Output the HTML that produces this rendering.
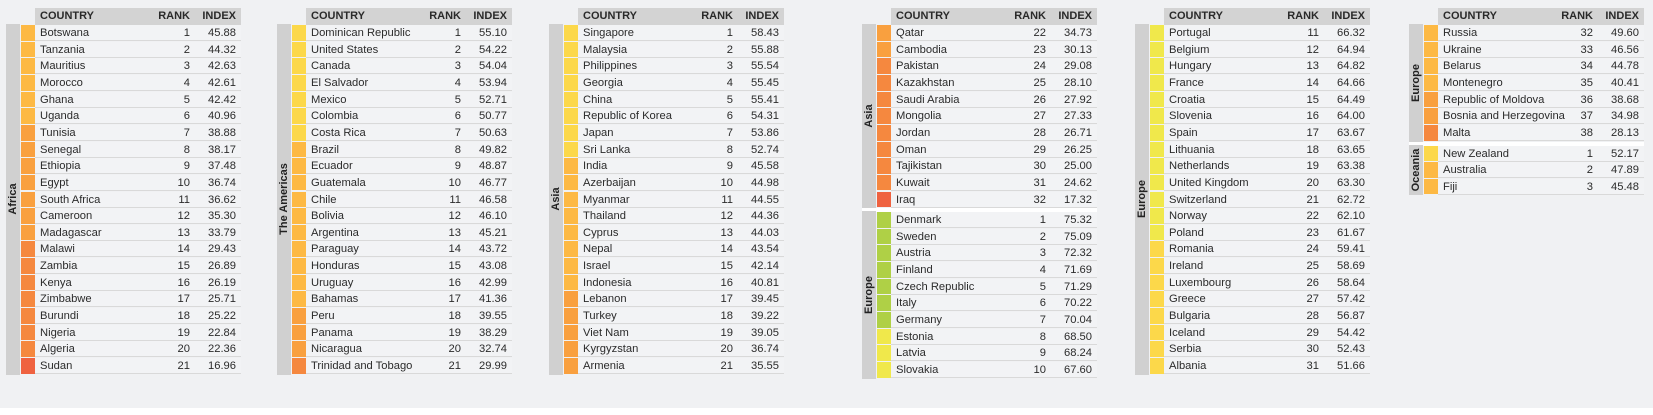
<!DOCTYPE html>
<html><head><meta charset="utf-8">
<style>
html,body{margin:0;padding:0;}
body{width:1653px;height:415px;background:#f0f1f3;position:relative;overflow:hidden;font-family:"Liberation Sans",sans-serif;color:#2b2b2b;}
#bottom{position:absolute;left:0;top:408px;width:1653px;height:7px;background:#fff;}
.hdr{position:absolute;height:17px;background:#d3d3d3;font-weight:bold;font-size:11px;line-height:17px;color:#2a2a2a;}
.hdr span,.row span{position:absolute;top:0;}
.bar{position:absolute;width:14px;background:#d0d0d0;}
.bar div{position:absolute;left:50%;top:50%;transform:translate(-50%,-50%) rotate(-90deg);font-weight:bold;font-size:11px;white-space:nowrap;color:#222;}
.sw{position:absolute;width:15px;}
.row{position:absolute;height:15px;background:#f2f3f5;border-bottom:1.6px solid #d9d9d9;font-size:11.2px;line-height:16px;}
.gap{position:absolute;height:4px;background:#fff;}
</style></head><body>
<div id="bottom"></div>
<script>
const tableX = [6, 277, 549, 862, 1135, 1409];
const groups = [
 [{region:"Africa",countries:["Botswana","Tanzania","Mauritius","Morocco","Ghana","Uganda","Tunisia","Senegal","Ethiopia","Egypt","South Africa","Cameroon","Madagascar","Malawi","Zambia","Kenya","Zimbabwe","Burundi","Nigeria","Algeria","Sudan"],
   ranks:[1,2,3,4,5,6,7,8,9,10,11,12,13,14,15,16,17,18,19,20,21],
   values:[45.88,44.32,42.63,42.61,42.42,40.96,38.88,38.17,37.48,36.74,36.62,35.30,33.79,29.43,26.89,26.19,25.71,25.22,22.84,22.36,16.96]}],
 [{region:"The Americas",countries:["Dominican Republic","United States","Canada","El Salvador","Mexico","Colombia","Costa Rica","Brazil","Ecuador","Guatemala","Chile","Bolivia","Argentina","Paraguay","Honduras","Uruguay","Bahamas","Peru","Panama","Nicaragua","Trinidad and Tobago"],
   ranks:[1,2,3,4,5,6,7,8,9,10,11,12,13,14,15,16,17,18,19,20,21],
   values:[55.10,54.22,54.04,53.94,52.71,50.77,50.63,49.82,48.87,46.77,46.58,46.10,45.21,43.72,43.08,42.99,41.36,39.55,38.29,32.74,29.99]}],
 [{region:"Asia",countries:["Singapore","Malaysia","Philippines","Georgia","China","Republic of Korea","Japan","Sri Lanka","India","Azerbaijan","Myanmar","Thailand","Cyprus","Nepal","Israel","Indonesia","Lebanon","Turkey","Viet Nam","Kyrgyzstan","Armenia"],
   ranks:[1,2,3,4,5,6,7,8,9,10,11,12,13,14,15,16,17,18,19,20,21],
   values:[58.43,55.88,55.54,55.45,55.41,54.31,53.86,52.74,45.58,44.98,44.55,44.36,44.03,43.54,42.14,40.81,39.45,39.22,39.05,36.74,35.55]}],
 [{region:"Asia",countries:["Qatar","Cambodia","Pakistan","Kazakhstan","Saudi Arabia","Mongolia","Jordan","Oman","Tajikistan","Kuwait","Iraq"],
   ranks:[22,23,24,25,26,27,28,29,30,31,32],
   values:[34.73,30.13,29.08,28.10,27.92,27.33,26.71,26.25,25.00,24.62,17.32]},
  {region:"Europe",countries:["Denmark","Sweden","Austria","Finland","Czech Republic","Italy","Germany","Estonia","Latvia","Slovakia"],
   ranks:[1,2,3,4,5,6,7,8,9,10],
   values:[75.32,75.09,72.32,71.69,71.29,70.22,70.04,68.50,68.24,67.60]}],
 [{region:"Europe",countries:["Portugal","Belgium","Hungary","France","Croatia","Slovenia","Spain","Lithuania","Netherlands","United Kingdom","Switzerland","Norway","Poland","Romania","Ireland","Luxembourg","Greece","Bulgaria","Iceland","Serbia","Albania"],
   ranks:[11,12,13,14,15,16,17,18,19,20,21,22,23,24,25,26,27,28,29,30,31],
   values:[66.32,64.94,64.82,64.66,64.49,64.00,63.67,63.65,63.38,63.30,62.72,62.10,61.67,59.41,58.69,58.64,57.42,56.87,54.42,52.43,51.66]}],
 [{region:"Europe",countries:["Russia","Ukraine","Belarus","Montenegro","Republic of Moldova","Bosnia and Herzegovina","Malta"],
   ranks:[32,33,34,35,36,37,38],
   values:[49.60,46.56,44.78,40.41,38.68,34.98,28.13]},
  {region:"Oceania",countries:["New Zealand","Australia","Fiji"],
   ranks:[1,2,3],
   values:[52.17,47.89,45.48]}]
];
function colorFor(v){
  if(v>=70) return "#afd046";
  if(v>=60) return "#f0e84b";
  if(v>=50) return "#fcd84a";
  if(v>=40) return "#fdb944";
  if(v>=30) return "#f9a03f";
  if(v>=20) return "#f5883f";
  return "#ef6240";
}
const ROWH = 16.65, TOP = 25;
const body = document.body;
function mk(cls, css, parent){
  const d=document.createElement('div');
  if(cls) d.className=cls;
  Object.assign(d.style,css);
  (parent||body).appendChild(d);
  return d;
}
groups.forEach((tbl,ti)=>{
  const x0 = tableX[ti], bx = x0+29;
  const h = mk('hdr',{left:bx+'px',top:'8px',width:'206px'});
  
  
  h.innerHTML='<span style="left:5px">COUNTRY</span><span style="right:51px">RANK</span><span style="right:5px">INDEX</span>';
  let y = TOP;
  tbl.forEach((g,gi)=>{
    if(gi>0){
      const gp = mk('gap',{left:x0+'px',top:y+'px',width:'235px'});
      
      
      y+=4;
    }
    const n=g.countries.length;
    const b = mk('bar',{left:x0+'px',top:(y-1)+'px',height:(n*ROWH+1)+'px'});
    
    
    b.innerHTML='<div>'+g.region+'</div>';
    g.countries.forEach((c,i)=>{
      const ry = y+i*ROWH;
      const s = mk('sw',{left:(x0+15)+'px',top:ry+'px',height:(ROWH-1)+'px',background:colorFor(g.values[i])});
      
      
      const r = mk('row',{left:bx+'px',top:ry+'px',width:'206px'});
      
      
      r.innerHTML='<span style="left:5px">'+c+'</span><span style="right:51px">'+g.ranks[i]+'</span><span style="right:5px">'+g.values[i].toFixed(2)+'</span>';
    });
    y += n*ROWH;
  });
});
</script>
</body></html>
